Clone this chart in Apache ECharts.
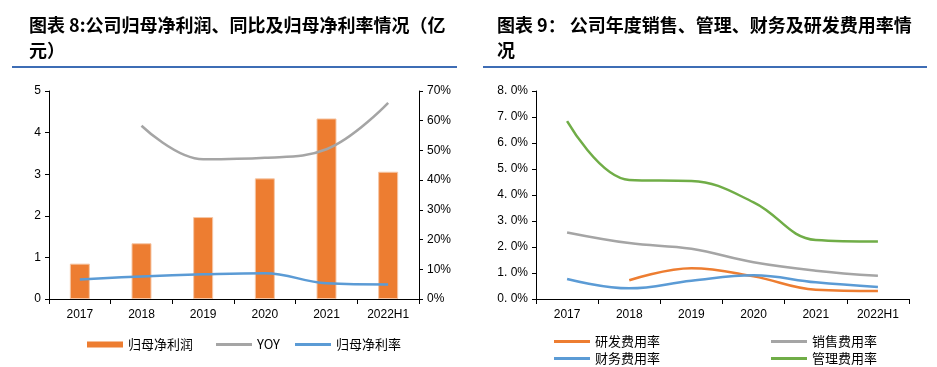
<!DOCTYPE html>
<html><head><meta charset="utf-8">
<script src="https://cdn.jsdelivr.net/npm/echarts@6/dist/echarts.min.js"></script>
<style>html,body{margin:0;padding:0;background:#fff}#c{width:937px;height:367px}</style>
</head><body><div id="c"></div>
<script>
const categories = ['2017','2018','2019','2020','2021','2022H1'];
// Left chart
const netProfit = [0.85, 1.34, 1.97, 2.90, 4.34, 3.06];         // 亿元
const yoy = [null, 58.3, 47.0, 47.5, 50.4, 66.0];               // %
const netMargin = [6.6, 7.6, 8.3, 8.7, 5.3, 4.9];               // %
const leftTicks = ['0','1','2','3','4','5'];
const rightTicks = ['0%','10%','20%','30%','40%','50%','60%','70%'];
// Right chart
const rdRate = [null, 0.72, 1.18, 0.87, 0.36, 0.31];
const salesRate = [2.56, 2.15, 1.93, 1.41, 1.09, 0.89];
const finRate = [0.77, 0.41, 0.70, 0.91, 0.64, 0.46];
const mgmtRate = [6.84, 4.58, 4.54, 3.72, 2.27, 2.21];
const rateTicks = ['0. 0%','1. 0%','2. 0%','3. 0%','4. 0%','5. 0%','6. 0%','7. 0%','8. 0%'];

const chart = echarts.init(document.getElementById('c'), null, {renderer:'canvas'});
const axisFont = {color:'#000', fontSize:12, fontFamily:'Liberation Sans, Arial, sans-serif'};
const legendFont = {color:'#000', fontSize:13, fontFamily:'Noto Sans CJK SC'};
const axLine = {show:true, lineStyle:{color:'#000', width:1}};
const tick = {show:true, length:4, lineStyle:{color:'#000'}};

function xAxis(gi){
  return {type:'category', gridIndex:gi, data:categories, boundaryGap:true,
    axisLine:axLine, axisTick:{show:true, length:5, alignWithLabel:false, lineStyle:{color:'#000'}},
    axisLabel:Object.assign({margin:10, interval:0}, axisFont), splitLine:{show:false}};
}
function leg(name, left, top, h){
  return {left:left, top:top, itemWidth:36, itemHeight:h, icon:'rect', textStyle:legendFont,
    itemStyle:{borderWidth:0}, data:[name]};
}

chart.setOption({
  animation:false,
  title:[
    {text:'图表 8:公司归母净利润、同比及归母净利率情况（亿\n元）', left:24, top:8,
     textStyle:{fontSize:18, fontWeight:'bold', color:'#000', fontFamily:'Noto Sans CJK SC', lineHeight:25}},
    {text:'图表 9： 公司年度销售、管理、财务及研发费用率情\n况', left:492, top:8,
     textStyle:{fontSize:18, fontWeight:'bold', color:'#000', fontFamily:'Noto Sans CJK SC', lineHeight:25}}
  ],
  graphic:[
    {type:'line', shape:{x1:12, y1:67, x2:457, y2:67}, style:{stroke:'#3E6DB5', lineWidth:2}},
    {type:'line', shape:{x1:483, y1:67, x2:927, y2:67}, style:{stroke:'#3E6DB5', lineWidth:2}}
  ],
  grid:[
    {left:49, right:518, top:91, bottom:68},
    {left:536, right:28, top:91, bottom:68}
  ],
  legend:[
    leg('归母净利润', 82, 333, 6),
    leg('YOY', 211, 333, 3),
    leg('归母净利率', 290, 333, 3),
    leg('研发费用率', 549, 330, 3),
    leg('财务费用率', 549, 347, 3),
    leg('销售费用率', 766, 330, 3),
    leg('管理费用率', 766, 347, 3)
  ],
  xAxis:[xAxis(0), xAxis(1)],
  yAxis:[
    {type:'value', gridIndex:0, min:0, max:5, interval:1, axisLine:axLine, axisTick:tick,
     splitLine:{show:false}, axisLabel:Object.assign({margin:8, formatter:v=>leftTicks[Math.round(v)]}, axisFont)},
    {type:'value', gridIndex:0, position:'right', min:0, max:70, interval:10, axisLine:axLine, axisTick:tick,
     splitLine:{show:false}, axisLabel:Object.assign({margin:8, formatter:v=>rightTicks[Math.round(v/10)]}, axisFont)},
    {type:'value', gridIndex:1, min:0, max:8, interval:1, axisLine:axLine, axisTick:tick,
     splitLine:{show:false}, axisLabel:Object.assign({margin:8, formatter:v=>rateTicks[Math.round(v)]}, axisFont)}
  ],
  series:[
    {name:'归母净利润', type:'bar', xAxisIndex:0, yAxisIndex:0, data:netProfit, barWidth:20,
     itemStyle:{color:'#ED7D31', borderColor:'#F6C7A6', borderWidth:1}},
    {name:'YOY', type:'line', xAxisIndex:0, yAxisIndex:1, data:yoy, smooth:0.4, symbol:'none',
     lineStyle:{color:'#A5A5A5', width:2.5}, itemStyle:{color:'#A5A5A5'}},
    {name:'归母净利率', type:'line', xAxisIndex:0, yAxisIndex:1, data:netMargin, smooth:0.4, symbol:'none',
     lineStyle:{color:'#5B9BD5', width:2.5}, itemStyle:{color:'#5B9BD5'}},
    {name:'研发费用率', type:'line', xAxisIndex:1, yAxisIndex:2, data:rdRate, smooth:0.4, symbol:'none',
     lineStyle:{color:'#ED7D31', width:2.5}, itemStyle:{color:'#ED7D31'}},
    {name:'销售费用率', type:'line', xAxisIndex:1, yAxisIndex:2, data:salesRate, smooth:0.4, symbol:'none',
     lineStyle:{color:'#A5A5A5', width:2.5}, itemStyle:{color:'#A5A5A5'}},
    {name:'财务费用率', type:'line', xAxisIndex:1, yAxisIndex:2, data:finRate, smooth:0.4, symbol:'none',
     lineStyle:{color:'#5B9BD5', width:2.5}, itemStyle:{color:'#5B9BD5'}},
    {name:'管理费用率', type:'line', xAxisIndex:1, yAxisIndex:2, data:mgmtRate, smooth:0.4, symbol:'none',
     lineStyle:{color:'#70AD47', width:2.5}, itemStyle:{color:'#70AD47'}}
  ]
});
</script></body></html>
